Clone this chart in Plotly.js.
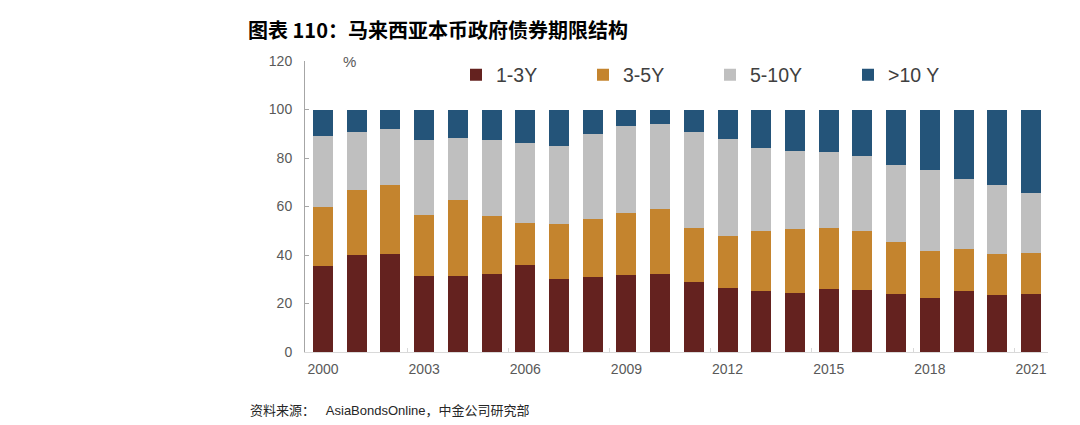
<!DOCTYPE html>
<html>
<head>
<meta charset="utf-8">
<script src="https://cdn.plot.ly/plotly-3.0.1.min.js"></script>
<style>
  html, body { margin: 0; padding: 0; background: #ffffff; }
  #chart { width: 1080px; height: 425px; }
</style>
</head>
<body>
<div id="chart"></div>
<script>
// Maturity structure of Malaysian local-currency government bonds (% share)
const years = [2000, 2001, 2002, 2003, 2004, 2005, 2006, 2007, 2008, 2009, 2010,
               2011, 2012, 2013, 2014, 2015, 2016, 2017, 2018, 2019, 2020, 2021];
const seriesNames = ['1-3Y', '3-5Y', '5-10Y', '>10 Y'];
const share1to3 = [35.6, 40.1, 40.6, 31.4, 31.3, 32.0, 35.9, 30.3, 30.9, 31.7, 32.3,
                   29.0, 26.6, 25.2, 24.4, 26.1, 25.5, 24.0, 22.3, 25.1, 23.6, 24.0];
const share3to5 = [24.0, 26.8, 28.1, 25.2, 31.3, 23.9, 17.2, 22.5, 23.9, 25.7, 26.5,
                   22.0, 21.3, 24.6, 26.2, 25.2, 24.6, 21.4, 19.4, 17.4, 17.0, 17.0];
const share5to10 = [29.6, 24.0, 23.3, 30.8, 25.8, 31.5, 33.2, 32.3, 35.1, 36.0, 35.4,
                    39.8, 39.8, 34.3, 32.2, 31.0, 30.7, 31.7, 33.5, 28.9, 28.1, 24.4];
const shareOver10 = [10.8, 9.1, 8.0, 12.6, 11.6, 12.6, 13.7, 14.9, 10.1, 6.6, 5.8,
                     9.2, 12.3, 15.9, 17.2, 17.7, 19.2, 22.9, 24.8, 28.6, 31.3, 34.6];
const xTickYears = [2000, 2003, 2006, 2009, 2012, 2015, 2018, 2021];
const yTicks = [0, 20, 40, 60, 80, 100, 120];

const colors = ['#64221f', '#c4842e', '#bfbfbf', '#245479'];
const seriesValues = [share1to3, share3to5, share5to10, shareOver10];
const legendIds = ['legend', 'legend2', 'legend3', 'legend4'];

const traces = seriesValues.map((vals, i) => ({
  type: 'bar',
  name: seriesNames[i],
  x: years,
  y: vals,
  marker: { color: colors[i], line: { width: 0 } },
  legend: legendIds[i],
  hoverinfo: 'skip'
}));

// separate tick marks sitting between bar groups every three years
const boundaryTicks = [];
for (let k = 0; k < xTickYears.length - 1; k++) boundaryTicks.push(xTickYears[k] + 2.5);
traces.push({
  type: 'scatter', mode: 'none', x: [years[0]], y: [0],
  xaxis: 'x2', showlegend: false, hoverinfo: 'skip'
});

const xRange = [1999.466, 2021.504];
const tickFont = { family: 'Liberation Sans, Arial, sans-serif', size: 14, color: '#595959' };
const legendFont = { family: 'Liberation Sans, Arial, sans-serif', size: 19.5, color: '#404040' };

function legendAt(x) {
  return {
    orientation: 'h', x: x, y: 0.952, xanchor: 'left', yanchor: 'middle',
    font: legendFont, bgcolor: 'rgba(0,0,0,0)', borderwidth: 0,
    itemclick: false, itemdoubleclick: false
  };
}

const layout = {
  width: 1080, height: 425,
  margin: { l: 305, r: 32, t: 61, b: 73 },
  paper_bgcolor: '#ffffff', plot_bgcolor: '#ffffff',
  barmode: 'stack',
  bargap: 0.41,
  showlegend: true,
  title: {
    text: '图表 110：马来西亚本币政府债券期限结构',
    font: { family: 'Noto Sans CJK SC, sans-serif', size: 20, color: '#000000', weight: 'bold' },
    xref: 'container', yref: 'container',
    x: 248 / 1080, xanchor: 'left',
    y: 1 - 31 / 425, yanchor: 'middle'
  },
  xaxis: {
    type: 'linear', range: xRange,
    tickmode: 'array', tickvals: xTickYears, ticktext: xTickYears.map(String),
    ticks: '', showgrid: false, zeroline: false,
    showline: true, linecolor: '#d9d9d9', linewidth: 1,
    tickfont: tickFont, ticklabelstandoff: 4
  },
  xaxis2: {
    overlaying: 'x', matches: 'x', range: xRange,
    tickmode: 'array', tickvals: boundaryTicks, showticklabels: false,
    ticks: 'inside', ticklen: 4, tickcolor: '#d9d9d9', tickwidth: 1,
    showgrid: false, zeroline: false, showline: false, anchor: 'y'
  },
  yaxis: {
    range: [0, 120], tickmode: 'array', tickvals: yTicks,
    ticks: 'inside', ticklen: 4, tickcolor: '#a6a6a6',
    showgrid: false, zeroline: false,
    showline: true, linecolor: '#a6a6a6', linewidth: 1,
    tickfont: tickFont, ticklabelstandoff: 9
  },
  legend: legendAt((456 - 305) / 743),
  legend2: legendAt((583 - 305) / 743),
  legend3: legendAt((710 - 305) / 743),
  legend4: legendAt((848 - 305) / 743),
  annotations: [
    {
      text: '%', xref: 'paper', yref: 'paper',
      x: (349 - 305) / 743, y: 1, xanchor: 'center', yanchor: 'middle',
      showarrow: false,
      font: { family: 'Liberation Sans, Arial, sans-serif', size: 15, color: '#595959' }
    },
    {
      text: '资料来源：\u00a0\u00a0 AsiaBondsOnline，中金公司研究部',
      xref: 'paper', yref: 'paper',
      x: (248 - 305) / 743, y: (352 - 410) / 291, xanchor: 'left', yanchor: 'middle',
      showarrow: false,
      font: { family: 'Liberation Sans, Noto Sans CJK SC, sans-serif', size: 13, color: '#262626' }
    }
  ]
};

Plotly.newPlot('chart', traces, layout, { displayModeBar: false, staticPlot: true });
</script>
</body>
</html>
